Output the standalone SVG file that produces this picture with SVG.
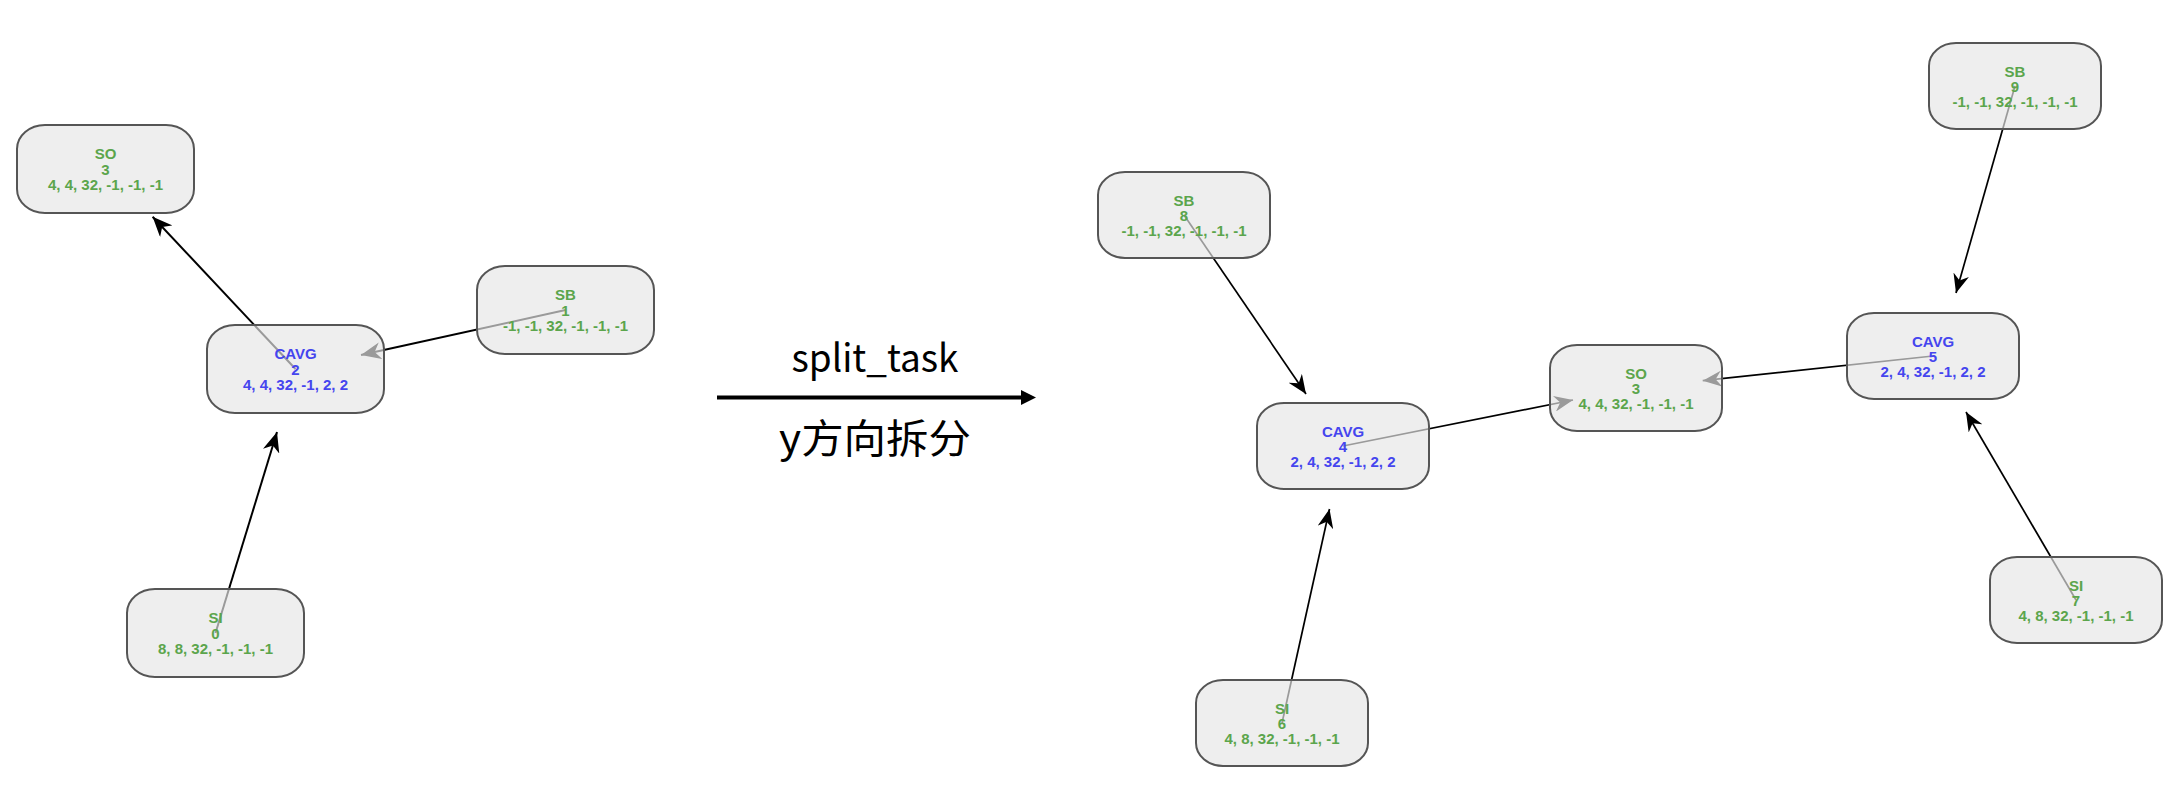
<svg xmlns="http://www.w3.org/2000/svg" width="2180" height="790" viewBox="0 0 2180 790">
  <style>
    .box { fill: #e6e6e6; fill-opacity: 0.67; stroke: #555555; stroke-width: 2; }
    .box-r { fill: #e6e6e6; fill-opacity: 0.67; stroke: #555555; stroke-width: 2; }
    .t { font-family: "Liberation Sans", Arial, sans-serif; font-weight: bold; font-size: 15px; text-anchor: middle; }
    .g { fill: #5ba54c; }
    .b { fill: #4545ee; }
    .edge { stroke: #000000; stroke-width: 2; fill: none; marker-end: url(#ah); }
    .edge-r { stroke: #000000; stroke-width: 1.7; fill: none; marker-end: url(#ah2); }
    .lbl { font-family: "Noto Sans CJK SC", "Noto Sans", sans-serif; font-size: 38px; fill: #000000; text-anchor: middle; }
  </style>
  <defs>
    <marker id="ah" viewBox="-20 -8.5 20 17" refX="0" refY="0" markerWidth="20" markerHeight="17" markerUnits="userSpaceOnUse" orient="auto">
      <path d="M0,0 L-20,-8.5 L-14,0 L-20,8.5 Z" fill="#000000"/>
    </marker>
    <marker id="ah2" viewBox="-19 -8 19 16" refX="0" refY="0" markerWidth="19" markerHeight="16" markerUnits="userSpaceOnUse" orient="auto">
      <path d="M0,0 L-19,-8 L-13,0 L-19,8 Z" fill="#000000"/>
    </marker>
  </defs>

  <rect x="0" y="0" width="2180" height="790" fill="#ffffff"/>

  <g id="edges">
    <line class="edge" x1="295.5" y1="369" x2="152.6" y2="216.7"/>
    <line class="edge" x1="565.5" y1="310" x2="361" y2="355"/>
    <line class="edge" x1="215.5" y1="633" x2="277" y2="432"/>
    <line class="edge-r" x1="1184" y1="215" x2="1306" y2="394"/>
    <line class="edge-r" x1="1343" y1="446" x2="1573" y2="400"/>
    <line class="edge-r" x1="1933" y1="356" x2="1702.7" y2="380.7"/>
    <line class="edge-r" x1="2015" y1="86" x2="1956" y2="293"/>
    <line class="edge-r" x1="2076" y1="600" x2="1966" y2="412"/>
    <line class="edge-r" x1="1282" y1="723" x2="1329.5" y2="509"/>
  </g>

  <g id="transform">
    <line x1="717" y1="397.5" x2="1023" y2="397.5" stroke="#000000" stroke-width="4"/>
    <polygon points="1021,390 1036,397.5 1021,405" fill="#000000"/>
    <text class="lbl" x="875" y="372" textLength="167" lengthAdjust="spacingAndGlyphs">split_task</text>
    <text class="lbl" x="875" y="453" font-size="40" textLength="192" lengthAdjust="spacingAndGlyphs" style="font-size:40px">y方向拆分</text>
  </g>

  <g id="node-so3-left" transform="translate(17,125)">
    <rect class="box" x="0" y="0" width="177" height="88" rx="28" ry="24"/>
    <text class="t g" x="88.5" y="34">SO</text>
    <text class="t g" x="88.5" y="49.5">3</text>
    <text class="t g" x="88.5" y="65">4, 4, 32, -1, -1, -1</text>
  </g>
  <g id="node-sb1" transform="translate(477,266)">
    <rect class="box" x="0" y="0" width="177" height="88" rx="28" ry="24"/>
    <text class="t g" x="88.5" y="34">SB</text>
    <text class="t g" x="88.5" y="49.5">1</text>
    <text class="t g" x="88.5" y="65">-1, -1, 32, -1, -1, -1</text>
  </g>
  <g id="node-cavg2" transform="translate(207,325)">
    <rect class="box" x="0" y="0" width="177" height="88" rx="28" ry="24"/>
    <text class="t b" x="88.5" y="34">CAVG</text>
    <text class="t b" x="88.5" y="49.5">2</text>
    <text class="t b" x="88.5" y="65">4, 4, 32, -1, 2, 2</text>
  </g>
  <g id="node-si0" transform="translate(127,589)">
    <rect class="box" x="0" y="0" width="177" height="88" rx="28" ry="24"/>
    <text class="t g" x="88.5" y="34">SI</text>
    <text class="t g" x="88.5" y="49.5">0</text>
    <text class="t g" x="88.5" y="65">8, 8, 32, -1, -1, -1</text>
  </g>

  <g id="node-sb8" transform="translate(1098,172)">
    <rect class="box-r" x="0" y="0" width="172" height="86" rx="27" ry="23"/>
    <text class="t g" x="86" y="33.5">SB</text>
    <text class="t g" x="86" y="48.5">8</text>
    <text class="t g" x="86" y="63.5">-1, -1, 32, -1, -1, -1</text>
  </g>
  <g id="node-sb9" transform="translate(1929,43)">
    <rect class="box-r" x="0" y="0" width="172" height="86" rx="27" ry="23"/>
    <text class="t g" x="86" y="33.5">SB</text>
    <text class="t g" x="86" y="48.5">9</text>
    <text class="t g" x="86" y="63.5">-1, -1, 32, -1, -1, -1</text>
  </g>
  <g id="node-cavg4" transform="translate(1257,403)">
    <rect class="box-r" x="0" y="0" width="172" height="86" rx="27" ry="23"/>
    <text class="t b" x="86" y="33.5">CAVG</text>
    <text class="t b" x="86" y="48.5">4</text>
    <text class="t b" x="86" y="63.5">2, 4, 32, -1, 2, 2</text>
  </g>
  <g id="node-so3-right" transform="translate(1550,345)">
    <rect class="box-r" x="0" y="0" width="172" height="86" rx="27" ry="23"/>
    <text class="t g" x="86" y="33.5">SO</text>
    <text class="t g" x="86" y="48.5">3</text>
    <text class="t g" x="86" y="63.5">4, 4, 32, -1, -1, -1</text>
  </g>
  <g id="node-cavg5" transform="translate(1847,313)">
    <rect class="box-r" x="0" y="0" width="172" height="86" rx="27" ry="23"/>
    <text class="t b" x="86" y="33.5">CAVG</text>
    <text class="t b" x="86" y="48.5">5</text>
    <text class="t b" x="86" y="63.5">2, 4, 32, -1, 2, 2</text>
  </g>
  <g id="node-si7" transform="translate(1990,557)">
    <rect class="box-r" x="0" y="0" width="172" height="86" rx="27" ry="23"/>
    <text class="t g" x="86" y="33.5">SI</text>
    <text class="t g" x="86" y="48.5">7</text>
    <text class="t g" x="86" y="63.5">4, 8, 32, -1, -1, -1</text>
  </g>
  <g id="node-si6" transform="translate(1196,680)">
    <rect class="box-r" x="0" y="0" width="172" height="86" rx="27" ry="23"/>
    <text class="t g" x="86" y="33.5">SI</text>
    <text class="t g" x="86" y="48.5">6</text>
    <text class="t g" x="86" y="63.5">4, 8, 32, -1, -1, -1</text>
  </g>
</svg>
